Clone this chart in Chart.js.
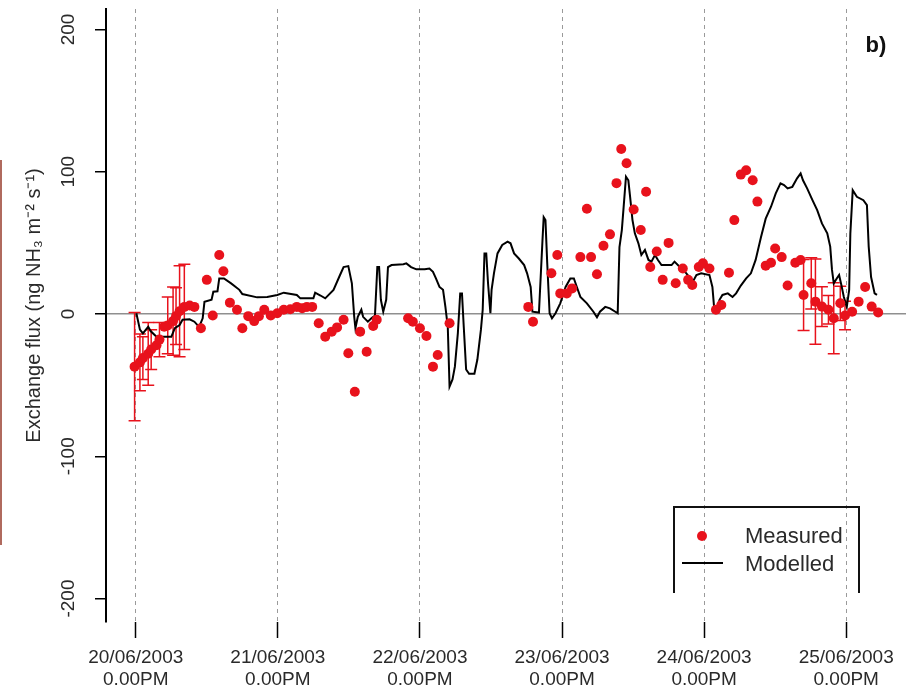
<!DOCTYPE html>
<html><head><meta charset="utf-8">
<script src="https://cdn.jsdelivr.net/npm/chart.js@4.4.1/dist/chart.umd.min.js"></script>
<style>html,body{margin:0;padding:0;background:#fff}#wrap{position:relative;width:911px;height:696px}</style>
</head><body><div id="wrap"><canvas id="c" width="911" height="696"></canvas></div>
<script>
// hours since 20/06/2003 12:00
const xTickHours = [0, 24, 48, 72, 96, 120];
const xTickDates = ['20/06/2003', '21/06/2003', '22/06/2003', '23/06/2003', '24/06/2003', '25/06/2003'];
const xTickTimes = ['0.00PM', '0.00PM', '0.00PM', '0.00PM', '0.00PM', '0.00PM'];
const yTicks = [-200, -100, 0, 100, 200];
const yTitle = 'Exchange flux (ng NH\u2083 m\u207B\u00B2 s\u207B\u00B9)';
const panelLabel = 'b)';
const seriesNames = ['Measured', 'Modelled'];

const measHours = [-0.2, 0.7, 1.2, 2.1, 2.6, 3.5, 4.0, 4.8, 5.4, 6.3, 6.8, 7.4, 8.2, 9.1, 9.9, 11.0, 12.0, 13.0, 14.1, 14.8,
  15.9, 17.1, 18.0, 19.0, 20.0, 20.8, 21.7, 22.8, 23.9, 25.0, 26.1, 27.2, 28.1, 28.9, 29.8, 30.9, 32.0, 33.1, 34.0, 35.1,
  35.9, 37.0, 37.9, 39.0, 40.1, 40.7, 46.0, 46.8, 48.0, 49.1, 50.2, 51.0, 53.0, 66.3, 67.1, 70.2, 71.2, 71.7, 72.8, 73.7,
  75.1, 76.2, 76.9, 77.9, 79.0, 80.1, 81.2, 82.0, 82.9, 84.1, 85.3, 86.2, 86.9, 88.0, 89.0, 90.0, 91.2, 92.4, 93.3, 94.0,
  95.1, 95.8, 96.9, 98.0, 98.9, 100.2, 101.1, 102.2, 103.1, 104.2, 105.0, 106.4, 107.3, 108.0, 109.1, 110.1, 111.4, 112.3,
  112.8, 114.1, 114.8, 115.9, 117.0, 117.9, 119.0, 119.8, 121.0, 122.1, 123.2, 124.3, 125.4];
const measVals = [-37, -34, -31, -28, -25, -22, -18, -9, -8, -5, -1.5, 2, 5, 6, 5, -10, 24, -1, 41.5, 30,
  8, 3, -10, -1.5, -5, -1.5, 3, -1, 0.5, 3, 3.3, 5, 4, 5, 5, -6.5, -16, -12.4, -9.4, -4,
  -27.6, -54.6, -12.4, -26.5, -8.4, -4, -3, -5.4, -10, -15.5, -37, -28.8, -6.5, 5, -5.4, 28.6, 41.5, 14.5, 14.5, 18,
  40, 74, 40, 28, 48, 56, 92, 116, 106, 73.5, 59, 86, 33, 44, 24, 50, 21.6, 32, 24, 20.4,
  33, 35.6, 32, 3, 6.3, 29, 66, 98, 101, 94, 79, 34, 36, 46, 40, 20, 36, 38,
  13.4, 21.6, 8.7, 5.2, 3, -3, 7.5, -1, 1.6, 8.7, 19, 5.2, 1];
const measErr = [38, 20, 15, 22, 14, 0, 12, 0, 20, 24, 20, 32, 30, 0, 0, 0, 0, 0, 0, 0,
  0, 0, 0, 0, 0, 0, 0, 0, 0, 0, 0, 0, 0, 0, 0, 0, 0, 0, 0, 0,
  0, 0, 0, 0, 0, 0, 0, 0, 0, 0, 0, 0, 0, 0, 0, 0, 0, 0, 0, 0,
  0, 0, 0, 0, 0, 0, 0, 0, 0, 0, 0, 0, 0, 0, 0, 0, 0, 0, 0, 0,
  0, 0, 0, 0, 0, 0, 0, 0, 0, 0, 0, 0, 0, 0, 0, 0, 0, 0,
  25, 18, 30, 14, 10, 25, 12, 10, 0, 0, 0, 0, 0];

const modHours = [0.1, 0.7, 1.2, 2.1, 2.5, 3.5, 6.0, 6.6, 7.4, 7.9, 9.1, 9.9, 10.7, 11.3, 11.6, 12.8, 13.1, 13.8, 14.1, 14.9,
  16.1, 17.5, 18.0, 20.5, 22.2, 23.9, 25.0, 27.2, 27.8, 30.0, 30.3, 31.2, 32.0, 33.4, 34.5, 35.1, 35.9, 36.5, 36.9, 37.1,
  37.5, 38.1, 38.4, 39.2, 39.8, 40.4, 40.8, 41.1, 41.4, 41.8, 42.3, 42.6, 43.2, 45.2, 45.7, 46.5, 47.4, 48.8, 49.6, 50.2,
  50.7, 51.3, 51.9, 52.3, 52.7, 53.0, 53.5, 53.9, 54.4, 54.8, 55.1, 55.4, 55.8, 56.3, 57.2, 57.7, 58.3, 58.6, 58.9, 59.2,
  59.5, 59.9, 60.1, 60.5, 61.1, 61.9, 62.8, 63.3, 63.9, 64.7, 65.6, 66.1, 66.7, 67.0, 68.1, 68.7, 68.9, 69.2, 69.5, 69.9,
  70.3, 70.9, 71.7, 72.6, 73.4, 74.0, 74.5, 75.1, 76.2, 77.3, 77.9, 78.4, 79.3, 80.1, 81.0, 81.4, 81.7, 82.1, 82.4, 82.8,
  83.2, 83.5, 83.9, 84.3, 84.9, 85.4, 86.0, 86.6, 87.1, 87.7, 88.2, 88.8, 90.5, 91.0, 91.9, 93.0, 94.1, 94.7, 95.5, 96.9,
  97.4, 97.7, 98.1, 98.6, 99.1, 100.0, 100.8, 101.4, 102.2, 103.1, 103.9, 104.7, 105.6, 106.4, 107.3, 108.1, 108.9, 109.5,
  110.1, 110.9, 111.7, 112.3, 112.7, 113.4, 114.3, 115.1, 115.9, 116.8, 117.3, 117.6, 117.9, 118.4, 118.8, 119.2, 119.6, 120.1,
  120.5, 120.7, 121.1, 121.8, 122.9, 123.5, 123.8, 124.2, 124.8, 125.2];
const modVals = [0.5, -11, -13.6, -9, -12, -16, -16, -10, -7.7, -4, -3.7, -5.4, -9, -3, 8.6, 10, 15.7, 16, 25, 25,
  21.5, 17, 14, 11.7, 12, 13.4, 15, 13.4, 11, 11, 15, 13, 11, 17, 27.4, 33, 33.7, 21.6, -2, -10,
  -2, 3, -2, -5.4, -3, -1, 33, 33, 10, 1.6, 10, 33, 34.4, 35, 35.6, 33, 31.4, 31.4, 32, 29.7,
  25, 19, 17, 5, -9, -51, -46, -37, -13.6, 14.5, 14.5, -9, -39, -42, -42, -32, -11, 3, 42.6, 42.6,
  21.6, 0.5, 17, 28.6, 42.6, 48.5, 50.8, 49.7, 42.6, 39, 34.4, 28.6, 19, 1.6, 1, 52, 68, 66, 35.6, 0.5,
  -3, 0.5, 7.5, 19, 25, 25, 19, 12, 7.5, 1.6, -2.3, 1.6, 5, 4, 1.6, 0.5, 47, 59, 75, 96.5,
  94, 82.4, 66, 56.7, 49.7, 41.5, 45, 38, 36.8, 41.5, 38, 34.4, 34.4, 36.8, 33, 28.6, 22.7, 27.4, 28.6, 27.4,
  19, 4, 1.6, 10, 13.4, 14.5, 12, 14.5, 20, 25, 28.6, 38, 54, 67, 75.4, 84.8, 91.8, 90.6,
  88.3, 89.4, 95.4, 98.8, 94, 88.3, 80, 73, 63.7, 56.7, 47.4, 31, 21.6, 25, 27.4, 20, 12, 5,
  17, 56.7, 87, 82.4, 80, 76.6, 47.4, 26, 14.5, 13.4];

const measData = measHours.map((h, i) => ({x: h, y: measVals[i]}));
const modData = modHours.map((h, i) => ({x: h, y: modVals[i]}));

const FONT = '"Liberation Sans", Arial, sans-serif';
const RED = '#e8121c';
const TXT = '#2a2a2a';

const extras = {
  id: 'extras',
  beforeDatasetsDraw(chart) {
    const {ctx, scales: {x, y}} = chart;
    ctx.save();
    ctx.strokeStyle = RED;
    ctx.lineWidth = 1.5;
    measErr.forEach((e, i) => {
      if (!e) return;
      const px = x.getPixelForValue(measHours[i]);
      const t = y.getPixelForValue(measVals[i] + e);
      const b = y.getPixelForValue(measVals[i] - e);
      ctx.beginPath();
      ctx.moveTo(px, t); ctx.lineTo(px, b);
      ctx.moveTo(px - 6, t); ctx.lineTo(px + 6, t);
      ctx.moveTo(px - 6, b); ctx.lineTo(px + 6, b);
      ctx.stroke();
    });
    ctx.restore();
  },
  afterDraw(chart) {
    const {ctx, scales: {y}, chartArea: ca} = chart;
    ctx.save();
    // y tick labels (parallel to axis)
    ctx.fillStyle = TXT;
    ctx.font = '19px ' + FONT;
    ctx.textAlign = 'center';
    ctx.textBaseline = 'middle';
    yTicks.forEach(v => {
      ctx.save();
      ctx.translate(ca.left - 37, y.getPixelForValue(v));
      ctx.rotate(-Math.PI / 2);
      ctx.fillText(String(v), 0, 0);
      ctx.restore();
    });
    // y title
    ctx.save();
    ctx.font = '20px ' + FONT;
    ctx.translate(ca.left - 72, y.getPixelForValue(6));
    ctx.rotate(-Math.PI / 2);
    ctx.fillText(yTitle, 0, 0);
    ctx.restore();
    // panel label
    ctx.font = 'bold 22px ' + FONT;
    ctx.fillStyle = '#111';
    ctx.textAlign = 'center';
    ctx.fillText(panelLabel, ca.right - 30, ca.top + 37);
    // legend
    const lx = ca.right - 232, lt = ca.top + 498, lr = ca.right - 47, lb = ca.top + 584;
    ctx.strokeStyle = '#111';
    ctx.lineWidth = 2;
    ctx.beginPath();
    ctx.moveTo(lx, lb); ctx.lineTo(lx, lt); ctx.lineTo(lr, lt); ctx.lineTo(lr, lb);
    ctx.stroke();
    ctx.fillStyle = RED;
    ctx.beginPath();
    ctx.arc(lx + 28, lt + 29, 5, 0, Math.PI * 2);
    ctx.fill();
    ctx.strokeStyle = '#000';
    ctx.beginPath();
    ctx.moveTo(lx + 8, lt + 56); ctx.lineTo(lx + 49, lt + 56);
    ctx.stroke();
    ctx.fillStyle = TXT;
    ctx.font = '22px ' + FONT;
    ctx.textAlign = 'left';
    ctx.fillText(seriesNames[0], lx + 71, lt + 30);
    ctx.fillText(seriesNames[1], lx + 71, lt + 58);
    // left border artefact
    ctx.strokeStyle = '#b06a5e';
    ctx.lineWidth = 2;
    ctx.beginPath();
    ctx.moveTo(1, 160); ctx.lineTo(1, 545);
    ctx.stroke();
    ctx.restore();
  }
};

new Chart(document.getElementById('c'), {
  type: 'scatter',
  data: {
    datasets: [
      {label: seriesNames[0], data: measData, pointRadius: 5, pointHoverRadius: 5,
        backgroundColor: RED, borderColor: RED, borderWidth: 0, order: 1},
      {label: seriesNames[1], type: 'line', data: modData, showLine: true, pointRadius: 0,
        borderColor: '#000', borderWidth: 2, tension: 0, fill: false, order: 2}
    ]
  },
  options: {
    responsive: false,
    animation: false,
    devicePixelRatio: 1,
    layout: {padding: {top: 9, right: 0, left: 0, bottom: 0}},
    plugins: {legend: {display: false}, tooltip: {enabled: false}},
    scales: {
      x: {
        type: 'linear', min: -5.03, max: 130.1,
        afterBuildTicks: s => { s.ticks = xTickHours.map(v => ({value: v})); },
        afterFit: s => { s.height = 74; },
        ticks: {
          callback: (v, i) => [xTickDates[i], xTickTimes[i]],
          font: {size: 19, family: FONT}, color: TXT, padding: 8,
          maxRotation: 0, minRotation: 0, autoSkip: false
        },
        grid: {color: '#9a9a9a', lineWidth: 1, drawOnChartArea: true, drawTicks: true,
          tickLength: 16, tickColor: '#000', tickWidth: 1.5, tickBorderDash: []},
        border: {display: false, dash: [4, 4]}
      },
      y: {
        min: -216.5, max: 214.4,
        afterBuildTicks: s => { s.ticks = yTicks.map(v => ({value: v})); },
        afterFit: s => { s.width = 106; },
        ticks: {display: false},
        grid: {
          drawOnChartArea: true, drawTicks: true, tickLength: 11, tickColor: '#000', tickWidth: 1.5,
          lineWidth: 1.5,
          color: c => (c.tick && c.tick.value === 0) ? '#8f8f8f' : 'rgba(0,0,0,0)'
        },
        border: {display: true, color: '#000', width: 2}
      }
    }
  },
  plugins: [extras]
});
</script>
</body></html>
